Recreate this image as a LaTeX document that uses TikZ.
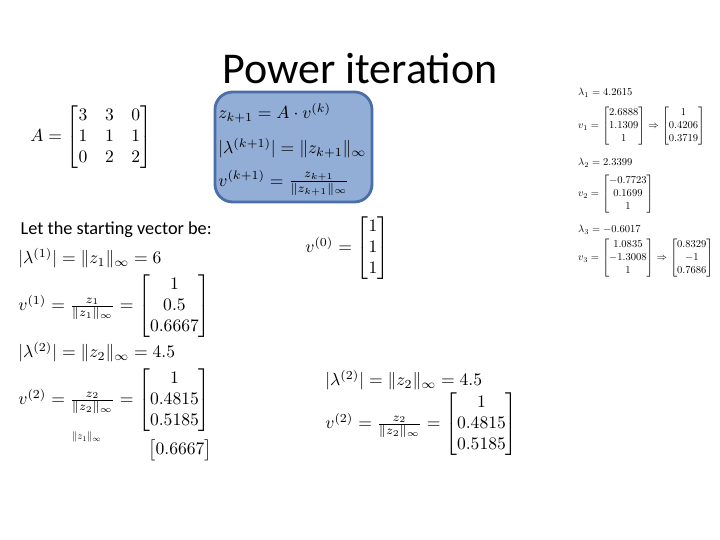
\documentclass[tikz,border=0pt]{standalone}
\usepackage{amsmath,amssymb}
\usepackage{fontspec}
\setmainfont{Carlito}
\definecolor{boxfill}{HTML}{93AED6}
\definecolor{boxline}{HTML}{4A6FA8}
\begin{document}
\begin{tikzpicture}[x=0.01cm,y=-0.01cm,
  eq/.style={inner sep=0pt,anchor=west,scale=0.5,transform shape},
  sm/.style={inner sep=0pt,anchor=west,scale=0.3,transform shape},
  ttl/.style={inner sep=0pt,font=\fontsize{12.5}{15}\selectfont},
  txt/.style={inner sep=0pt,anchor=west,font=\fontsize{5.2}{6}\selectfont},
  bluebox/.style={draw=boxline,line width=0.8pt,fill=boxfill,rounded corners=5pt}]
\useasboundingbox (0,0) rectangle (720,540);
\node[ttl] (title) at (360,68) {Power iteration};
\draw[bluebox] (215,92) rectangle (372,202);
\node[eq] (b1) at (218,113) {$z_{k+1}=A\cdot v^{(k)}$};
\node[eq] (b2) at (218,148) {$|\lambda^{(k+1)}|=\|z_{k+1}\|_\infty$};
\node[eq] (b3) at (218,183) {$v^{(k+1)}=\frac{z_{k+1}}{\|z_{k+1}\|_\infty}$};
\node[eq] (A) at (30,137) {$A=\begin{bmatrix}3&3&0\\1&1&1\\0&2&2\end{bmatrix}$};
\node[txt] (let) at (20,230) {Let the starting vector be:};
\node[eq] (v0) at (305,248) {$v^{(0)}=\begin{bmatrix}1\\1\\1\end{bmatrix}$};
\node[eq] (l1) at (18,258) {$|\lambda^{(1)}|=\|z_1\|_\infty=6$};
\node[eq] (v1) at (18,306) {$v^{(1)}=\frac{z_1}{\|z_1\|_\infty}=\begin{bmatrix}1\\0.5\\0.6667\end{bmatrix}$};
\node[eq] (l2) at (18,352) {$|\lambda^{(2)}|=\|z_2\|_\infty=4.5$};
\node[eq] (v2) at (18,400) {$v^{(2)}=\frac{z_2}{\|z_2\|_\infty}=\begin{bmatrix}1\\0.4815\\0.5185\end{bmatrix}$};
\node[sm] (f1) at (72,437) {$\|z_1\|_\infty$};
\node[eq] (f2) at (148,450) {$\begin{bmatrix}0.6667\end{bmatrix}$};
\node[eq] (l2b) at (325,380) {$|\lambda^{(2)}|=\|z_2\|_\infty=4.5$};
\node[eq] (v2b) at (325,424) {$v^{(2)}=\frac{z_2}{\|z_2\|_\infty}=\begin{bmatrix}1\\0.4815\\0.5185\end{bmatrix}$};
\node[sm] (r1) at (578,93) {$\lambda_1=4.2615$};
\node[sm] (r2) at (578,126) {$v_1=\begin{bmatrix}2.6888\\1.1309\\1\end{bmatrix}\Rightarrow\begin{bmatrix}1\\0.4206\\0.3719\end{bmatrix}$};
\node[sm] (r3) at (578,163) {$\lambda_2=2.3399$};
\node[sm] (r4) at (578,194) {$v_2=\begin{bmatrix}-0.7723\\0.1699\\1\end{bmatrix}$};
\node[sm] (r5) at (578,230) {$\lambda_3=-0.6017$};
\node[sm] (r6) at (578,258) {$v_3=\begin{bmatrix}1.0835\\-1.3008\\1\end{bmatrix}\Rightarrow\begin{bmatrix}0.8329\\-1\\0.7686\end{bmatrix}$};
\end{tikzpicture}
\end{document}
